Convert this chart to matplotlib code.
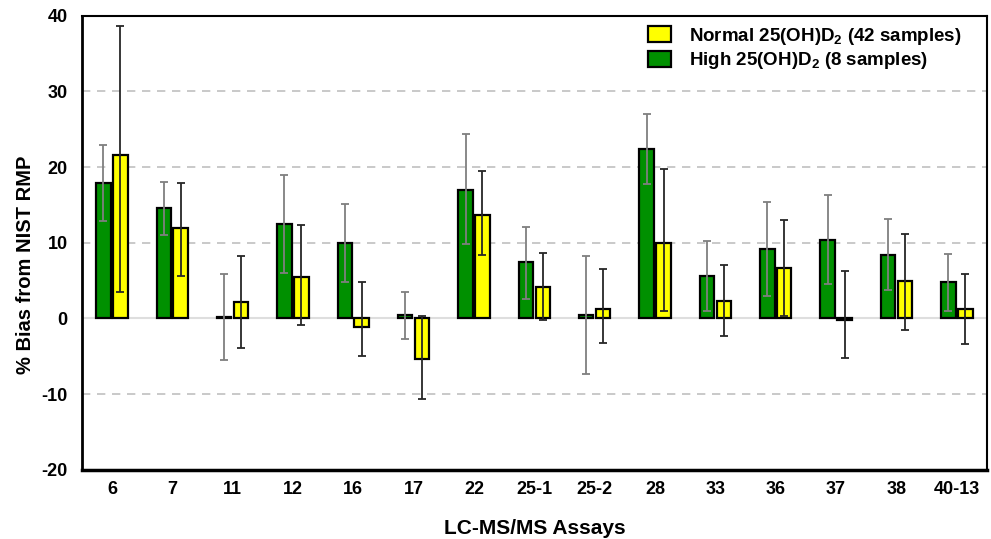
import matplotlib
matplotlib.use("Agg")
import matplotlib.pyplot as plt
import numpy as np

plt.rcParams['font.family'] = ['Liberation Sans', 'DejaVu Sans']
plt.rcParams['font.weight'] = 'bold'
plt.rcParams['mathtext.fontset'] = 'custom'
plt.rcParams['mathtext.rm'] = 'Liberation Sans:bold'
plt.rcParams['mathtext.bf'] = 'Liberation Sans:bold'
plt.rcParams['mathtext.default'] = 'bf'
plt.rcParams['axes.unicode_minus'] = False

categories = ["6", "7", "11", "12", "16", "17", "22", "25-1", "25-2", "28",
              "33", "36", "37", "38", "40-13"]
high_vals = [17.9, 14.6, 0.2, 12.5, 10.0, 0.4, 17.0, 7.4, 0.5, 22.4,
             5.6, 9.2, 10.3, 8.4, 4.8]
high_err_lo = [5.0, 3.6, 5.7, 6.5, 5.2, 3.1, 7.2, 4.8, 7.9, 4.7,
               4.6, 6.3, 5.8, 4.7, 3.8]
high_err_hi = [5.0, 3.4, 5.7, 6.4, 5.1, 3.1, 7.3, 4.7, 7.8, 4.6,
               4.6, 6.2, 6.0, 4.7, 3.7]
normal_vals = [21.6, 11.9, 2.2, 5.5, -1.1, -5.4, 13.7, 4.1, 1.2, 10.0,
               2.3, 6.7, -0.2, 4.9, 1.2]
normal_err_lo = [18.1, 6.3, 6.1, 6.4, 3.9, 5.3, 5.3, 4.3, 4.5, 9.0,
                 4.6, 6.4, 5.1, 6.5, 4.6]
normal_err_hi = [17.1, 6.0, 6.0, 6.8, 5.9, 5.7, 5.8, 4.5, 5.3, 9.8,
                 4.7, 6.3, 6.5, 6.3, 4.7]

fig = plt.figure(figsize=(9.91, 5.39), dpi=100)
ax = fig.add_axes([81.7/991, 1 - 469.7/539, (987 - 81.7)/991, (469.7 - 15.7)/539])

x = np.arange(len(categories))
w = 0.24
off = 0.14

ax.set_xlim(-0.5, len(categories) - 0.5)
ax.set_ylim(-20, 40)
ax.set_yticks(np.arange(-20, 41, 10))

for yv in [-10, 10, 20, 30]:
    ax.axhline(yv, color='#c0c0c0', lw=1.2, ls=(0, (5, 4)), zorder=0)
ax.axhline(0, color='#dedede', lw=1.5, zorder=0.5)

b_high = ax.bar(x - off, high_vals, w, color='#009000', edgecolor='black', lw=1.6, zorder=2,
                label=r'High 25(OH)D$_2$ (8 samples)')
b_norm = ax.bar(x + off, normal_vals, w, color='#ffff00', edgecolor='black', lw=1.6, zorder=2,
                label=r'Normal 25(OH)D$_2$ (42 samples)')

ax.errorbar(x - off, high_vals, yerr=[high_err_lo, high_err_hi], fmt='none', ecolor='#7f7f7f',
            elinewidth=1.3, capsize=3, capthick=1.3, zorder=3)
ax.errorbar(x + off, normal_vals, yerr=[normal_err_lo, normal_err_hi], fmt='none', ecolor='#262626',
            elinewidth=1.3, capsize=3, capthick=1.3, zorder=3)

ax.set_xticks(x)
ax.set_xticklabels(categories, fontsize=13, fontweight='bold')
ax.tick_params(axis='x', length=0, pad=8)
ax.tick_params(axis='y', length=0, pad=10, labelsize=13)
for lab in ax.get_yticklabels():
    lab.set_fontweight('bold')

for s in ['top', 'right']:
    ax.spines[s].set_linewidth(1.5)
ax.spines['left'].set_linewidth(2)
ax.spines['bottom'].set_linewidth(2.5)

ax.set_ylabel('% Bias from NIST RMP', fontsize=14.5, fontweight='bold')
ax.set_xlabel('LC-MS/MS Assays', fontsize=15, fontweight='bold')
ax.yaxis.set_label_coords(-0.052, 0.451)
ax.xaxis.set_label_coords(0.5, -0.108)

leg = ax.legend(handles=[b_norm, b_high], loc='upper left', frameon=False,
                fontsize=13.5, bbox_to_anchor=(0.626, 0.978), borderaxespad=0,
                borderpad=0, handlelength=1.2, handleheight=0.95,
                handletextpad=0.95, labelspacing=0.2)
for t in leg.get_texts():
    t.set_fontweight('bold')

fig.savefig('out.png', dpi=100)
